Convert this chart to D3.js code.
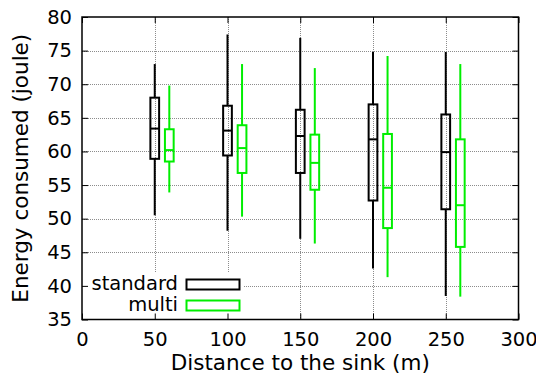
<!DOCTYPE html>
<html>
<head>
<meta charset="utf-8">
<script src="https://cdn.jsdelivr.net/npm/d3@7"></script>
<style>
  html, body { margin: 0; padding: 0; background: #fff; }
  svg { display: block; }
  text { font-family: "DejaVu Sans", sans-serif; fill: #000; }
</style>
</head>
<body>
<svg id="chart" width="536" height="374"></svg>
<script>
// ---- data ----
const distances = [50, 100, 150, 200, 250];
const seriesNames = ["standard", "multi"];
const seriesColors = ["#000000", "#00ee00"];
const seriesOffset = [0, 10];
// [whiskerLow, q1, median, q3, whiskerHigh]
const standardStats = [
  [50.5, 58.9, 63.4, 68.0, 73.0],
  [48.2, 59.4, 63.1, 66.8, 77.4],
  [47.0, 56.8, 62.3, 66.2, 76.9],
  [42.6, 52.7, 61.8, 67.0, 74.8],
  [38.5, 51.4, 59.9, 65.5, 74.8]
];
const multiStats = [
  [53.9, 58.5, 60.2, 63.3, 69.8],
  [50.3, 56.8, 60.5, 63.9, 73.0],
  [46.3, 54.3, 58.3, 62.5, 72.4],
  [41.3, 48.6, 54.6, 62.6, 74.2],
  [38.4, 45.8, 52.0, 61.8, 73.0]
];
const xTicks = [0, 50, 100, 150, 200, 250, 300];
const yTicks = [35, 40, 45, 50, 55, 60, 65, 70, 75, 80];
const xLabel = "Distance to the sink (m)";
const yLabel = "Energy consumed (joule)";
const boxWidthUnits = 6;

// ---- layout ----
const svg = d3.select("#chart");
const L = 82, R = 518.5, T = 17, B = 319.5;
const x = d3.scaleLinear().domain([0, 300]).range([L, R]);
const y = d3.scaleLinear().domain([35, 80]).range([B, T]);

// grid
const grid = svg.append("g").attr("stroke", "#8c8c8c").attr("stroke-width", 1)
  .attr("stroke-dasharray", "1,1");
xTicks.filter(t => t > 0 && t < 300).forEach(t => {
  grid.append("line").attr("x1", Math.round(x(t)) + 0.5).attr("x2", Math.round(x(t)) + 0.5)
    .attr("y1", T).attr("y2", B);
});
yTicks.filter(t => t > 35 && t < 80).forEach(t => {
  grid.append("line").attr("y1", Math.round(y(t)) + 0.5).attr("y2", Math.round(y(t)) + 0.5)
    .attr("x1", L).attr("x2", R);
});

// legend background (hides grid)
svg.append("rect").attr("x", L + 1).attr("y", 272).attr("width", 161).attr("height", B - 272 - 1)
  .attr("fill", "#fff");

// boxes
const allStats = [standardStats, multiStats];
allStats.forEach((stats, si) => {
  const g = svg.append("g").attr("stroke", seriesColors[si]).attr("stroke-width", 2).attr("fill", "none");
  stats.forEach((s, i) => {
    const cx = x(distances[i] + seriesOffset[si]);
    const hw = (x(boxWidthUnits) - x(0)) / 2;
    g.append("line").attr("x1", cx).attr("x2", cx).attr("y1", y(s[0])).attr("y2", y(s[1]));
    g.append("line").attr("x1", cx).attr("x2", cx).attr("y1", y(s[3])).attr("y2", y(s[4]));
    g.append("rect").attr("x", cx - hw).attr("y", y(s[3])).attr("width", 2 * hw)
      .attr("height", y(s[1]) - y(s[3]));
    g.append("line").attr("x1", cx - hw).attr("x2", cx + hw).attr("y1", y(s[2])).attr("y2", y(s[2]));
  });
});

// axes with inward ticks
const tickLen = 6;
const axG = svg.append("g");
axG.append("g").attr("transform", `translate(0,${B})`)
  .call(d3.axisBottom(x).tickValues(xTicks).tickSize(-tickLen).tickPadding(13).tickFormat(d3.format("d")));
axG.append("g").attr("transform", `translate(0,${T})`)
  .call(d3.axisTop(x).tickValues(xTicks).tickSize(-tickLen).tickFormat(""));
axG.append("g").attr("transform", `translate(${L},0)`)
  .call(d3.axisLeft(y).tickValues(yTicks).tickSize(-tickLen).tickPadding(10).tickFormat(d3.format("d")));
axG.append("g").attr("transform", `translate(${R},0)`)
  .call(d3.axisRight(y).tickValues(yTicks).tickSize(-tickLen).tickFormat(""));
axG.selectAll(".domain").remove();
axG.selectAll(".tick line").attr("stroke", "#000").attr("stroke-width", 1);
axG.selectAll(".tick text").style("font-family", "DejaVu Sans").style("font-size", "19.5px").attr("fill", "#000");

// border
svg.append("rect").attr("x", L).attr("y", T).attr("width", R - L).attr("height", B - T)
  .attr("fill", "none").attr("stroke", "#000").attr("stroke-width", 1.5);

// axis titles
svg.append("text").attr("x", (L + R) / 2).attr("y", 370).attr("text-anchor", "middle")
  .style("font-size", "21.5px").text(xLabel);
svg.append("text").attr("transform", `translate(28,${(T + B) / 2}) rotate(-90)`)
  .attr("text-anchor", "middle").style("font-size", "21.5px").text(yLabel);

// legend
seriesNames.forEach((name, i) => {
  const yy = 279 + i * 21;
  svg.append("text").attr("x", 178).attr("y", yy + 10.5).attr("text-anchor", "end")
    .style("font-size", "19.5px").text(name);
  svg.append("rect").attr("x", 186.5).attr("y", yy + 0.5).attr("width", 53).attr("height", 10)
    .attr("fill", "none").attr("stroke", seriesColors[i]).attr("stroke-width", 2);
});
</script>
</body>
</html>
